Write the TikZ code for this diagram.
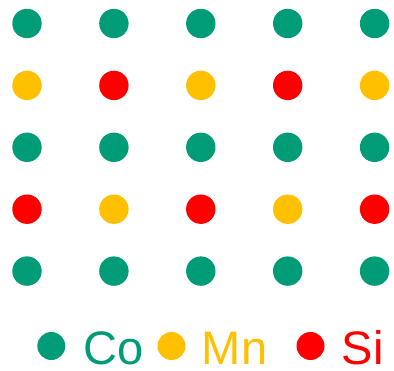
\documentclass[tikz,border=0pt]{standalone}
\usepackage{fontspec}
\setmainfont{Liberation Sans}
\usetikzlibrary{positioning}

\definecolor{cogreen}{RGB}{0,155,119}
\definecolor{mnyellow}{RGB}{255,192,0}
\definecolor{sired}{RGB}{255,0,0}

\begin{document}
\begin{tikzpicture}[x=1pt, y=-1pt,
  atom/.style={circle, fill=#1, minimum size=29.4pt, inner sep=0pt},
  legtext/.style={text=#1, inner sep=0pt, font=\fontsize{47}{56}\selectfont}]

\useasboundingbox (0,0) rectangle (394,371);

% Gitter
\foreach \row [count=\r] in {{cogreen,cogreen,cogreen,cogreen,cogreen},
                             {mnyellow,sired,mnyellow,sired,mnyellow},
                             {cogreen,cogreen,cogreen,cogreen,cogreen},
                             {sired,mnyellow,sired,mnyellow,sired},
                             {cogreen,cogreen,cogreen,cogreen,cogreen}}
  \foreach \col [count=\c] in \row
    \node[atom=\col] (a\r\c) at ({27+86.9*(\c-1)},{23.5+61.9*(\r-1)}) {};

% Legende
\node[atom=cogreen, minimum size=28pt] (co) at (51.3,346) {};
\node[legtext=cogreen, right=18pt of co, yshift=-2pt] (cotext) {Co};
\node[atom=mnyellow, minimum size=28pt] (mn) at (171.5,346) {};
\node[legtext=mnyellow, right=16pt of mn, yshift=-2pt] (mntext) {Mn};
\node[atom=sired, minimum size=28pt] (si) at (310.5,346) {};
\node[legtext=sired, right=17pt of si, yshift=-2pt] (sitext) {Si};

\end{tikzpicture}
\end{document}
